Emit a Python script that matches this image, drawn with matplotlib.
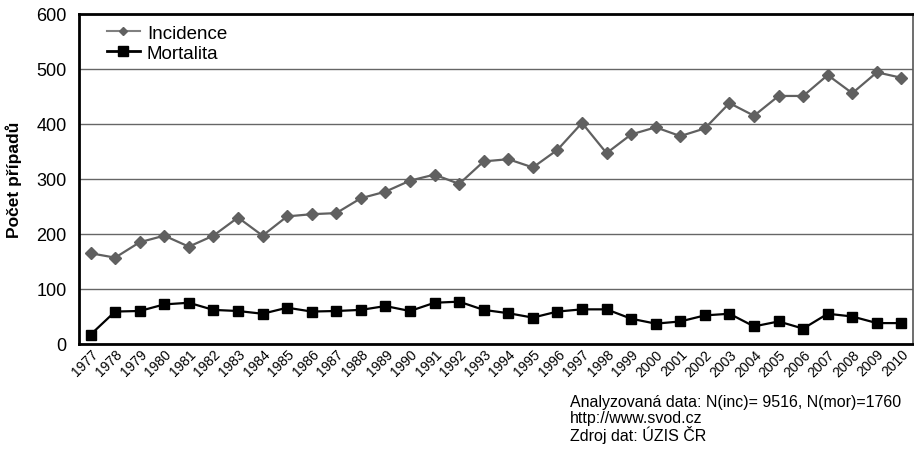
import numpy as np
import matplotlib.pyplot as plt
from matplotlib.lines import Line2D

plt.rcParams['font.family'] = ['Liberation Sans', 'DejaVu Sans']

years = list(range(1977, 2011))
incidence = [165, 157, 185, 197, 177, 197, 230, 197, 232, 236, 238, 265, 277, 297,
             308, 291, 332, 336, 321, 353, 402, 347, 381, 394, 378, 392, 438, 415,
             451, 451, 489, 456, 494, 484]
mortalita = [17, 59, 60, 72, 75, 62, 60, 55, 66, 59, 60, 62, 69, 60, 75, 77, 62, 56,
             48, 59, 63, 63, 46, 37, 41, 52, 55, 32, 41, 28, 55, 50, 38, 38]
footer = ["Analyzovaná data: N(inc)= 9516, N(mor)=1760",
          "http://www.svod.cz",
          "Zdroj dat: ÚZIS ČR"]

fig = plt.figure(figsize=(9.14, 4.56), dpi=100)
ax = fig.add_axes([79 / 914, 1 - 345 / 456, (913 - 79) / 914, (345 - 15) / 456])

x = np.arange(len(years))
ax.plot(x, incidence, color='#606060', lw=1.6, marker='D', ms=6.5)
ax.plot(x, mortalita, color='black', lw=1.6, marker='s', ms=7.5)

ax.set_xlim(-0.47, len(years) - 0.53)
ax.set_ylim(0, 600)
ax.set_yticks(range(0, 601, 100))
ax.yaxis.grid(True, color='#666666', lw=1)
ax.set_axisbelow(True)
ax.tick_params(axis='y', length=0, labelsize=13, pad=9)
ax.tick_params(axis='x', length=0, labelsize=10, pad=2)
ax.set_xticks(x)
ax.set_xticklabels([str(y) for y in years], rotation=45, ha='right',
                   rotation_mode='anchor')
ax.set_ylabel('Počet případů', fontsize=12.5, fontweight='bold', labelpad=10)

for s in ['top', 'left', 'bottom']:
    ax.spines[s].set_linewidth(2)
    ax.spines[s].set_color('black')
ax.spines['right'].set_linewidth(1.2)
ax.spines['right'].set_color('#555555')

# legend keys are drawn smaller than the plot markers
handles = [Line2D([], [], color='#808080', lw=1.5, marker='D', ms=4.5,
                  markerfacecolor='#606060', markeredgecolor='#606060'),
           Line2D([], [], color='black', lw=2, marker='s', ms=6.5)]
ax.legend(handles, ['Incidence', 'Mortalita'], loc='upper left',
          bbox_to_anchor=(0.024, 0.99), frameon=False, fontsize=13.5,
          handlelength=1.8, handletextpad=0.35, labelspacing=0.15,
          borderaxespad=0)

for i, line in enumerate(footer):
    fig.text(570 / 914, 1 - (403 + 16 * i) / 456, line, fontsize=11.5, va='center')

fig.savefig('out.png', dpi=100)
